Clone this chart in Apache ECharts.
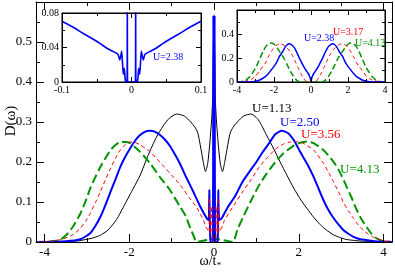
<!DOCTYPE html>
<html><head><meta charset="utf-8">
<script src="https://cdn.jsdelivr.net/npm/echarts@6/dist/echarts.min.js"></script>
<style>html,body{margin:0;padding:0;background:#fff}#c{width:395px;height:273px}</style>
</head><body><div id="c"></div>
<script>
// ---------- tick values ----------
const mainXTicks = [-4, -2, 0, 2, 4];
const mainXMinor = [-3, -1, 1, 3];
const mainYLabels = ['0', '0.1', '0.2', '0.3', '0.4', '0.5'];

// ---------- main panel: D(omega) vs omega/t* ----------
const curveU113 = [[-4.2,0],[-3.6,0.001],[-3.2,0.003],[-2.9,0.009],[-2.7,0.016],[-2.5,0.03],[-2.3,0.056],[-2.1,0.095],[-1.9,0.135],[-1.75,0.165],[-1.55,0.218],[-1.36,0.262],[-1.2,0.29],[-1.05,0.31],[-0.88,0.32],[-0.7,0.315],[-0.55,0.3],[-0.45,0.287],[-0.38,0.272],[-0.3,0.228],[-0.25,0.198],[-0.2,0.176],[-0.15,0.195],[-0.1,0.245],[-0.06,0.3],[-0.03,0.36],[0,0.56],[0.03,0.36],[0.06,0.3],[0.1,0.245],[0.15,0.195],[0.2,0.176],[0.25,0.198],[0.3,0.228],[0.38,0.272],[0.45,0.287],[0.55,0.3],[0.7,0.315],[0.88,0.32],[1.05,0.305],[1.25,0.265],[1.4,0.235],[1.56,0.2],[1.72,0.167],[1.88,0.135],[2.05,0.105],[2.2,0.083],[2.35,0.062],[2.51,0.043],[2.65,0.03],[2.82,0.018],[3.0,0.01],[3.14,0.006],[3.5,0.002],[4.2,0]];
const curveU250 = [[-4.2,0],[-3.5,0.002],[-3.15,0.007],[-2.92,0.022],[-2.8,0.04],[-2.68,0.063],[-2.56,0.093],[-2.44,0.126],[-2.32,0.158],[-2.21,0.188],[-2.1,0.212],[-1.98,0.234],[-1.85,0.255],[-1.75,0.267],[-1.62,0.276],[-1.51,0.278],[-1.4,0.276],[-1.28,0.268],[-1.15,0.255],[-1.04,0.24],[-0.9,0.215],[-0.8,0.195],[-0.67,0.165],[-0.5,0.128],[-0.33,0.09],[-0.17,0.059],[-0.125,0.055],[-0.11,0.13],[-0.1,0.13],[-0.09,0.01],[-0.08,0],[-0.03,0],[-0.015,0.567],[0,0],[0.015,0.567],[0.03,0],[0.08,0],[0.09,0.01],[0.1,0.13],[0.11,0.13],[0.125,0.055],[0.18,0.059],[0.33,0.088],[0.5,0.115],[0.67,0.15],[0.85,0.178],[1.0,0.2],[1.15,0.225],[1.3,0.247],[1.45,0.27],[1.6,0.278],[1.75,0.272],[1.9,0.252],[2.03,0.226],[2.2,0.195],[2.35,0.163],[2.47,0.133],[2.58,0.105],[2.7,0.08],[2.82,0.06],[2.95,0.042],[3.05,0.03],[3.18,0.02],[3.29,0.013],[3.45,0.007],[3.6,0.005],[3.8,0.002],[4.2,0]];
const curveU356 = [[-4.2,0],[-3.8,0.002],[-3.55,0.008],[-3.33,0.018],[-3.15,0.035],[-3.03,0.052],[-2.92,0.072],[-2.8,0.098],[-2.68,0.126],[-2.56,0.156],[-2.44,0.185],[-2.32,0.21],[-2.21,0.23],[-2.1,0.243],[-1.98,0.25],[-1.86,0.249],[-1.75,0.243],[-1.51,0.226],[-1.28,0.2],[-1.04,0.172],[-0.8,0.143],[-0.57,0.109],[-0.4,0.085],[-0.25,0.055],[-0.2,0.04],[-0.15,0.03],[-0.12,0.025],[-0.105,0.11],[-0.095,0.11],[-0.085,0.02],[-0.07,0.06],[-0.05,0.09],[-0.04,0],[0.04,0],[0.05,0.09],[0.07,0.06],[0.085,0.02],[0.095,0.11],[0.105,0.11],[0.12,0.025],[0.15,0.03],[0.2,0.04],[0.25,0.055],[0.47,0.092],[0.67,0.125],[0.87,0.155],[1.05,0.185],[1.25,0.21],[1.45,0.232],[1.64,0.245],[1.8,0.25],[1.95,0.251],[2.1,0.247],[2.35,0.23],[2.58,0.197],[2.7,0.175],[2.82,0.15],[2.94,0.125],[3.05,0.1],[3.17,0.078],[3.29,0.059],[3.4,0.043],[3.52,0.03],[3.64,0.02],[3.76,0.012],[4.0,0.003],[4.2,0]];
const curveU413 = [[-4.2,0],[-3.9,0.001],[-3.64,0.005],[-3.48,0.018],[-3.33,0.038],[-3.15,0.072],[-3.03,0.102],[-2.92,0.134],[-2.8,0.162],[-2.68,0.188],[-2.56,0.21],[-2.44,0.23],[-2.32,0.243],[-2.21,0.25],[-2.1,0.25],[-1.98,0.247],[-1.75,0.226],[-1.51,0.197],[-1.28,0.163],[-1.04,0.13],[-0.8,0.088],[-0.67,0.065],[-0.57,0.038],[-0.48,0.015],[-0.41,0],[-0.25,0.003],[-0.15,0.006],[0,0.008],[0.15,0.006],[0.3,0.003],[0.45,0],[0.55,0.03],[0.69,0.063],[0.92,0.113],[1.08,0.145],[1.25,0.172],[1.45,0.2],[1.64,0.222],[1.84,0.238],[2.03,0.248],[2.2,0.251],[2.35,0.247],[2.58,0.23],[2.75,0.21],[2.9,0.188],[3.02,0.164],[3.13,0.138],[3.25,0.11],[3.37,0.08],[3.48,0.057],[3.6,0.038],[3.72,0.02],[3.84,0.009],[4.0,0.002],[4.2,0]];

// ---------- left inset: low-frequency zoom, U=2.38 ----------
const insetLowU238 = [[-0.1,0.0705],[-0.085,0.064],[-0.07,0.0565],[-0.055,0.0495],[-0.045,0.0445],[-0.037,0.04],[-0.028,0.036],[-0.022,0.0335],[-0.019,0.0315],[-0.017,0.0255],[-0.0155,0.03],[-0.0141,0.036],[-0.0128,0.02],[-0.0118,0.009],[-0.0103,0.016],[-0.0092,0.004],[-0.0083,0],[-0.0064,0],[-0.006,0.1],[-0.0056,0],[0.0056,0],[0.006,0.1],[0.0064,0],[0.0083,0],[0.0092,0.004],[0.0103,0.016],[0.0118,0.009],[0.0128,0.02],[0.0141,0.036],[0.0155,0.03],[0.017,0.0255],[0.019,0.0315],[0.022,0.0335],[0.028,0.036],[0.037,0.04],[0.045,0.0445],[0.055,0.0495],[0.07,0.0565],[0.085,0.064],[0.1,0.0705]];

// ---------- right inset ----------
const insetU238 = [[-4,0],[-3.5,0.001],[-3.2,0.003],[-3.0,0.006],[-2.8,0.015],[-2.65,0.027],[-2.46,0.045],[-2.3,0.07],[-2.15,0.1],[-2.0,0.13],[-1.85,0.165],[-1.7,0.215],[-1.56,0.245],[-1.42,0.285],[-1.3,0.308],[-1.18,0.318],[-1.05,0.31],[-0.94,0.295],[-0.8,0.258],[-0.67,0.214],[-0.53,0.17],[-0.4,0.13],[-0.28,0.1],[-0.16,0.073],[-0.08,0.05],[-0.03,0.025],[0,0.008],[0.03,0.025],[0.08,0.05],[0.16,0.073],[0.28,0.1],[0.4,0.13],[0.53,0.17],[0.67,0.214],[0.8,0.258],[0.94,0.295],[1.05,0.31],[1.16,0.318],[1.3,0.308],[1.42,0.285],[1.56,0.245],[1.7,0.215],[1.85,0.165],[2.0,0.13],[2.15,0.1],[2.3,0.07],[2.46,0.045],[2.65,0.027],[2.8,0.015],[3.0,0.006],[3.2,0.003],[3.5,0.001],[4,0]];
const insetU317 = [[-4,0],[-3.7,0.003],[-3.4,0.012],[-3.2,0.025],[-3.0,0.048],[-2.75,0.1],[-2.6,0.13],[-2.46,0.16],[-2.3,0.21],[-2.1,0.265],[-1.9,0.303],[-1.75,0.316],[-1.62,0.318],[-1.45,0.305],[-1.3,0.285],[-1.2,0.268],[-1.0,0.22],[-0.85,0.172],[-0.7,0.12],[-0.55,0.072],[-0.42,0.035],[-0.3,0.01],[-0.2,0],[0.2,0],[0.3,0.01],[0.42,0.035],[0.55,0.072],[0.7,0.12],[0.85,0.172],[1.0,0.22],[1.2,0.268],[1.3,0.285],[1.45,0.305],[1.62,0.318],[1.75,0.316],[1.9,0.303],[2.1,0.265],[2.3,0.21],[2.46,0.16],[2.6,0.13],[2.75,0.1],[3.0,0.048],[3.2,0.025],[3.4,0.012],[3.7,0.003],[4,0]];
const insetU413 = [[-4,0],[-3.8,0.002],[-3.66,0.006],[-3.5,0.018],[-3.3,0.045],[-3.1,0.09],[-2.95,0.13],[-2.75,0.2],[-2.59,0.256],[-2.45,0.295],[-2.3,0.318],[-2.15,0.325],[-2.0,0.315],[-1.83,0.284],[-1.65,0.243],[-1.47,0.2],[-1.3,0.148],[-1.11,0.088],[-0.95,0.048],[-0.8,0.018],[-0.65,0.003],[-0.55,0],[0.55,0],[0.65,0.003],[0.8,0.018],[0.95,0.048],[1.11,0.088],[1.3,0.148],[1.47,0.2],[1.65,0.243],[1.83,0.284],[2.0,0.315],[2.12,0.325],[2.3,0.318],[2.45,0.295],[2.59,0.256],[2.75,0.2],[2.95,0.13],[3.1,0.09],[3.3,0.045],[3.5,0.018],[3.66,0.006],[3.8,0.002],[4,0]];

// ---------- styling ----------
const FF = '"Liberation Serif", "Times New Roman", serif';
const BLUE = '#0000ff', RED = '#ff0000', GREEN = '#009400', BLACK = '#000000';

const chart = echarts.init(document.getElementById('c'), null, {renderer: 'canvas'});

function fmtNum(v) { return String(Math.round(v * 1000) / 1000); }

function ax(grid, pos, min, max, opts) {
  return Object.assign({
    type: 'value', gridIndex: grid, position: pos, min: min, max: max,
    axisLine: {show: true, onZero: false, lineStyle: {color: '#000', width: 1}},
    splitLine: {show: false},
    axisTick: {show: true, inside: true, length: 8, lineStyle: {color: '#000'}},
    axisLabel: {show: false},
    z: 5
  }, opts);
}
const noLine = {show: false, onZero: false};
const tk = (len, extra) => Object.assign({show: true, inside: true, length: len, lineStyle: {color: '#000'}}, extra || {});
const mtk = (len) => ({show: true, splitNumber: 2, length: len, lineStyle: {color: '#000'}});

const option = {
  animation: false,
  backgroundColor: '#fff',
  grid: [
    {left: 36, top: 2, width: 356, height: 240, containLabel: false, outerBoundsMode: 'none'},
    {left: 62, top: 13, width: 139, height: 69, containLabel: false, outerBoundsMode: 'none',
     show: true, backgroundColor: '#fff', borderColor: '#000', borderWidth: 1, z: 3},
    {left: 237, top: 10, width: 148, height: 72, containLabel: false, outerBoundsMode: 'none',
     show: true, backgroundColor: '#fff', borderColor: '#000', borderWidth: 1, z: 3}
  ],
  xAxis: [
    ax(0, 'bottom', -4.2, 4.2, {
      axisTick: tk(8, {customValues: mainXTicks}),
      axisLabel: {show: true, customValues: mainXTicks, margin: 4, fontFamily: FF, fontSize: 13, color: '#000',
                  formatter: v => fmtNum(v)}
    }),
    ax(0, 'bottom', -4.2, 4.2, {axisLine: noLine, axisTick: tk(4, {customValues: mainXMinor})}),
    ax(0, 'top', -4.2, 4.2, {axisTick: tk(8, {customValues: mainXTicks})}),
    ax(0, 'top', -4.2, 4.2, {axisLine: noLine, axisTick: tk(4, {customValues: mainXMinor})}),
    ax(1, 'bottom', -0.1, 0.1, {interval: 0.1, axisTick: tk(5), minorTick: mtk(3),
      axisLabel: {show: true, margin: 3, fontFamily: FF, fontSize: 10, color: '#000', formatter: v => fmtNum(v)}}),
    ax(1, 'top', -0.1, 0.1, {interval: 0.1, axisTick: tk(5), minorTick: mtk(3)}),
    ax(2, 'bottom', -4, 4, {interval: 2, axisTick: tk(5), minorTick: mtk(3),
      axisLabel: {show: true, margin: 3, fontFamily: FF, fontSize: 10, color: '#000', formatter: v => fmtNum(v)}}),
    ax(2, 'top', -4, 4, {interval: 2, axisTick: tk(5), minorTick: mtk(3)})
  ],
  yAxis: [
    ax(0, 'left', 0, 0.6, {interval: 0.1, axisTick: tk(8), minorTick: mtk(4),
      axisLabel: {show: true, margin: 4, fontFamily: FF, fontSize: 13, color: '#000',
                  formatter: v => { const i = Math.round(v * 10); return i < mainYLabels.length ? mainYLabels[i] : ''; }}}),
    ax(0, 'right', 0, 0.6, {interval: 0.1, axisTick: tk(8), minorTick: mtk(4)}),
    ax(1, 'left', 0, 0.08, {interval: 0.04, axisTick: tk(5), minorTick: mtk(3),
      axisLabel: {show: true, margin: 3, fontFamily: FF, fontSize: 10, color: '#000', formatter: v => fmtNum(v)}}),
    ax(1, 'right', 0, 0.08, {interval: 0.04, axisTick: tk(5), minorTick: mtk(3)}),
    ax(2, 'left', 0, 0.6, {interval: 0.2, axisTick: tk(5), minorTick: mtk(3),
      axisLabel: {show: true, margin: 3, fontFamily: FF, fontSize: 10, color: '#000',
                  formatter: v => (v > 0.55 ? '' : fmtNum(v))}}),
    ax(2, 'right', 0, 0.6, {interval: 0.2, axisTick: tk(5), minorTick: mtk(3)})
  ],
  series: [
    {type: 'line', xAxisIndex: 0, yAxisIndex: 0, data: curveU113, showSymbol: false, smooth: 0.2,
     lineStyle: {color: BLACK, width: 1}, z: 2},
    {type: 'line', xAxisIndex: 0, yAxisIndex: 0, data: curveU413, showSymbol: false, smooth: 0.2,
     lineStyle: {color: GREEN, width: 2, type: [9, 4]}, z: 2},
    {type: 'line', xAxisIndex: 0, yAxisIndex: 0, data: curveU250, showSymbol: false, smooth: 0.2,
     lineStyle: {color: BLUE, width: 2}, z: 2},
    {type: 'line', xAxisIndex: 0, yAxisIndex: 0, data: curveU356, showSymbol: false, smooth: 0.2,
     lineStyle: {color: RED, width: 1, type: [4, 3]}, z: 2},
    {type: 'line', xAxisIndex: 4, yAxisIndex: 2, data: insetLowU238, showSymbol: false, smooth: 0.15,
     lineStyle: {color: BLUE, width: 1.6}, z: 4},
    {type: 'line', xAxisIndex: 6, yAxisIndex: 4, data: insetU413, showSymbol: false, smooth: 0.2,
     lineStyle: {color: GREEN, width: 1.5, type: [6, 3]}, z: 4},
    {type: 'line', xAxisIndex: 6, yAxisIndex: 4, data: insetU317, showSymbol: false, smooth: 0.2,
     lineStyle: {color: RED, width: 1, type: [4, 3]}, z: 4},
    {type: 'line', xAxisIndex: 6, yAxisIndex: 4, data: insetU238, showSymbol: false, smooth: 0.2,
     lineStyle: {color: BLUE, width: 1.5}, z: 4}
  ],
  graphic: [
    {type: 'text', x: 252, y: 109, z: 10, style: {text: 'U=1.13', fill: BLACK, font: '13px ' + FF, verticalAlign: 'middle', textVerticalAlign: 'middle'}},
    {type: 'text', x: 280, y: 123, z: 10, style: {text: 'U=2.50', fill: BLUE, font: '13px ' + FF, verticalAlign: 'middle', textVerticalAlign: 'middle'}},
    {type: 'text', x: 301, y: 135, z: 10, style: {text: 'U=3.56', fill: RED, font: '13px ' + FF, verticalAlign: 'middle', textVerticalAlign: 'middle'}},
    {type: 'text', x: 340, y: 170, z: 10, style: {text: 'U=4.13', fill: GREEN, font: '13px ' + FF, verticalAlign: 'middle', textVerticalAlign: 'middle'}},
    {type: 'text', x: 153, y: 57, z: 10, style: {text: 'U=2.38', fill: BLUE, font: '10px ' + FF, verticalAlign: 'middle', textVerticalAlign: 'middle'}},
    {type: 'text', x: 304, y: 38, z: 10, style: {text: 'U=2.38', fill: BLUE, font: '10px ' + FF, verticalAlign: 'middle', textVerticalAlign: 'middle'}},
    {type: 'text', x: 333, y: 32, z: 10, style: {text: 'U=3.17', fill: RED, font: '10px ' + FF, verticalAlign: 'middle', textVerticalAlign: 'middle'}},
    {type: 'text', x: 355, y: 43, z: 10, style: {text: 'U=4.13', fill: GREEN, font: '10px ' + FF, verticalAlign: 'middle', textVerticalAlign: 'middle'}},
    {type: 'text', x: 11, y: 121, rotation: Math.PI / 2, z: 10, style: {text: 'D(ω)', fill: BLACK, font: '15px ' + FF, align: 'center', textAlign: 'center', verticalAlign: 'middle', textVerticalAlign: 'middle'}},
    {type: 'text', x: 208, y: 261, z: 10, style: {text: 'ω/t', fill: BLACK, font: '14px ' + FF, align: 'center', textAlign: 'center', verticalAlign: 'middle', textVerticalAlign: 'middle'}},
    {type: 'text', x: 219, y: 266, z: 10, style: {text: '*', fill: BLACK, font: '9px ' + FF, align: 'center', textAlign: 'center', verticalAlign: 'middle', textVerticalAlign: 'middle'}}
  ]
};
chart.setOption(option);
</script>
</body></html>
